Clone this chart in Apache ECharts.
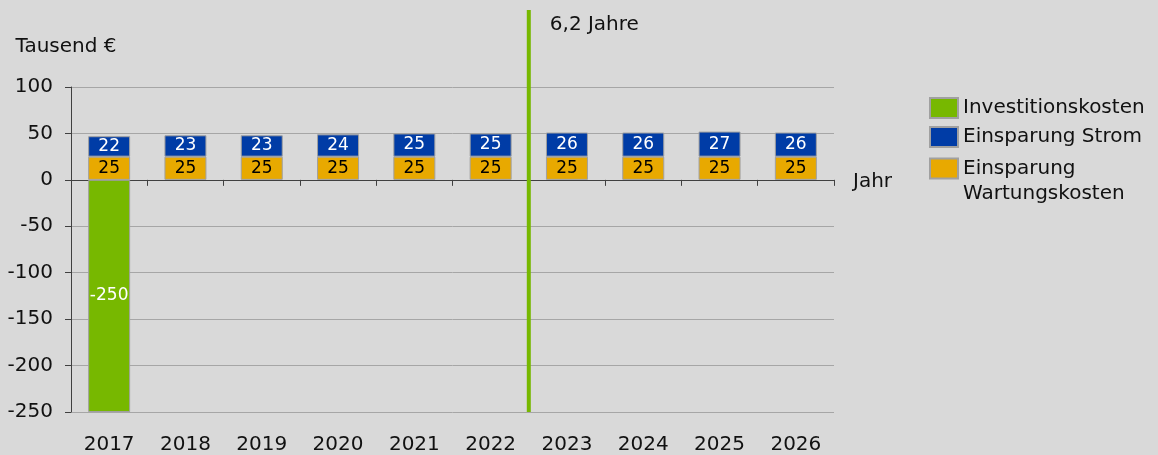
<!DOCTYPE html>
<html>
<head>
<meta charset="utf-8">
<script src="https://cdn.jsdelivr.net/npm/echarts@6/dist/echarts.min.js"></script>
<style>
  html, body { margin: 0; padding: 0; background: #d9d9d9; }
  #main { width: 1158px; height: 455px; }
</style>
</head>
<body>
<div id="main"></div>
<script>
  // Daten
  var years = ['2017', '2018', '2019', '2020', '2021', '2022', '2023', '2024', '2025', '2026'];
  var investition = [-250, null, null, null, null, null, null, null, null, null];
  var einsparungStrom = [22, 23, 23, 24, 25, 25, 26, 26, 27, 26];
  var einsparungWartung = [25, 25, 25, 25, 25, 25, 25, 25, 25, 25];
  var yMin = -250, yMax = 100, yStep = 50;
  var paybackPos = 6;        // Grenze zwischen 2022 und 2023
  var paybackTop = 183;      // Linie ragt ueber das Diagramm hinaus
  var paybackLabel = '6,2 Jahre';

  var font = '"DejaVu Sans", Verdana, sans-serif';
  var border = { borderColor: '#a0a0a0', borderWidth: 1 };

  var chart = echarts.init(document.getElementById('main'));
  chart.setOption({
    backgroundColor: '#d9d9d9',
    animation: false,
    textStyle: { fontFamily: font, color: '#111' },
    grid: { left: 71, top: 87, width: 763, height: 325 },
    legend: [{
      data: ['Investitionskosten', 'Einsparung Strom'],
      orient: 'vertical', left: 929, top: 97, padding: 0,
      icon: 'rect', itemWidth: 28, itemHeight: 20, itemGap: 7,
      textStyle: { fontFamily: font, fontSize: 20, color: '#111', lineHeight: 20 }
    }, {
      data: ['Einsparung Wartungskosten'],
      orient: 'vertical', left: 929, top: 131, padding: 0,
      icon: 'rect', itemWidth: 28, itemHeight: 20,
      // leere erste Zeile, damit "Einsparung" auf Hoehe des Symbols steht
      formatter: function (n) { return '\n' + n.replace(' ', '\n'); },
      textStyle: { fontFamily: font, fontSize: 20, color: '#111', lineHeight: 25 }
    }],
    xAxis: [{
      type: 'category', data: years,
      name: 'Jahr', nameLocation: 'end', nameGap: 19,
      nameTextStyle: { fontFamily: font, fontSize: 20, color: '#111', verticalAlign: 'top', padding: [-8, 0, 0, 0] },
      axisLine: { onZero: true, lineStyle: { color: '#404040', width: 1 } },
      axisTick: { show: true, length: 6, lineStyle: { color: '#404040' } },
      axisLabel: { show: false }
    }, {
      type: 'category', data: years, position: 'bottom',
      axisLine: { show: false, onZero: false }, axisTick: { show: false },
      axisLabel: { fontFamily: font, fontSize: 20, color: '#111', margin: 23 }
    }, {
      type: 'value', min: 0, max: years.length, show: false
    }],
    yAxis: {
      type: 'value', min: yMin, max: yMax, interval: yStep,
      name: 'Tausend €', nameLocation: 'end', nameGap: 30,
      nameTextStyle: { fontFamily: font, fontSize: 20, color: '#111', align: 'center', padding: [0, 10, 0, 0] },
      axisLine: { show: true, onZero: false, lineStyle: { color: '#404040' } },
      axisTick: { show: true, length: 6, lineStyle: { color: '#404040' } },
      axisLabel: { fontFamily: font, fontSize: 20, color: '#111', margin: 18 },
      splitLine: { lineStyle: { color: '#a6a6a6', width: 1 } }
    },
    series: [{
      name: 'Investitionskosten', type: 'bar', stack: 'k', barWidth: 42,
      data: investition,
      itemStyle: Object.assign({ color: '#77b800' }, border),
      label: { show: true, position: 'inside', color: '#fff', fontFamily: font, fontSize: 17 }
    }, {
      name: 'Einsparung Wartungskosten', type: 'bar', stack: 'k', barWidth: 42,
      data: einsparungWartung,
      itemStyle: Object.assign({ color: '#e8a900' }, border),
      label: { show: true, position: 'inside', color: '#000', fontFamily: font, fontSize: 17 }
    }, {
      name: 'Einsparung Strom', type: 'bar', stack: 'k', barWidth: 42,
      data: einsparungStrom,
      itemStyle: Object.assign({ color: '#003ca6' }, border),
      label: { show: true, position: 'inside', color: '#fff', fontFamily: font, fontSize: 17 }
    }, {
      name: 'Amortisation', type: 'line', xAxisIndex: 2, clip: false,
      symbol: 'none', silent: true,
      data: [[paybackPos, yMin], [paybackPos, paybackTop]],
      lineStyle: { color: '#77b800', width: 4 }
    }, {
      name: 'AmortisationLabel', type: 'scatter', xAxisIndex: 2, clip: false,
      symbolSize: 0, silent: true,
      itemStyle: { opacity: 1 },
      data: [[paybackPos, paybackTop]],
      label: {
        show: true, position: 'right', distance: 0, offset: [21, 15],
        formatter: paybackLabel, fontFamily: font, fontSize: 20, color: '#111', opacity: 1
      }
    }]
  });
</script>
</body>
</html>
